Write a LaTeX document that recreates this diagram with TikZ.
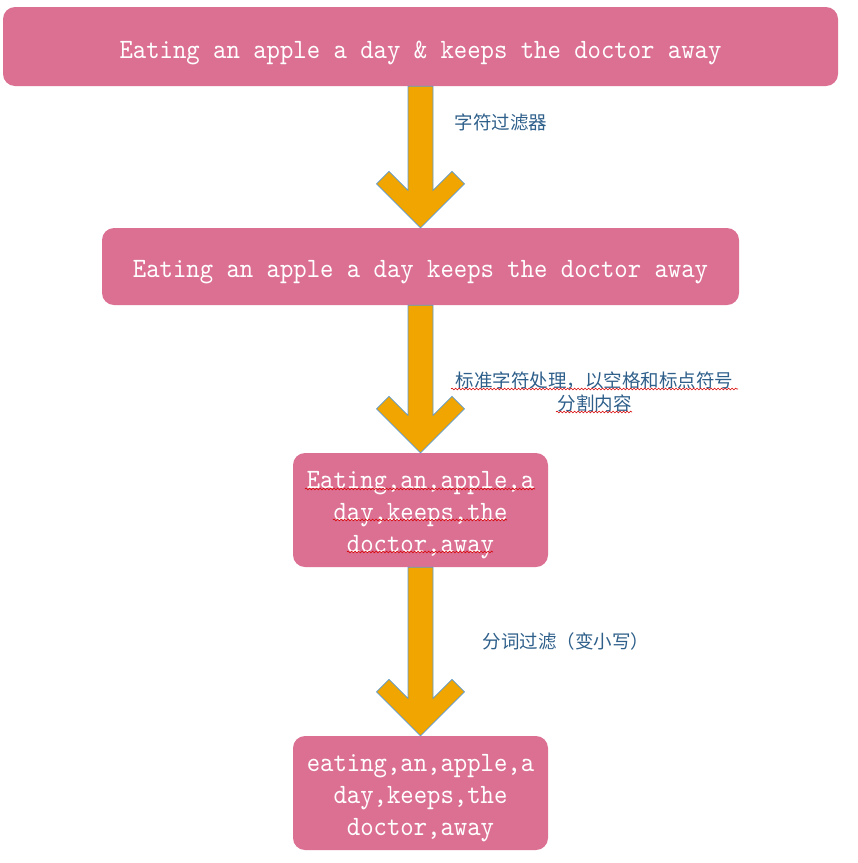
\documentclass[tikz,border=0pt]{standalone}
\usepackage{fontspec}
\usetikzlibrary{calc,decorations.pathmorphing}
\newfontfamily\boxfont[Extension=.otf,FakeStretch=0.91]{lmmono10-regular}
\newfontfamily\cjk{Noto Sans CJK SC}
\definecolor{boxpink}{RGB}{219,112,147}
\definecolor{arrowgold}{RGB}{240,165,0}
\definecolor{arrowedge}{RGB}{91,155,213}
\definecolor{labelblue}{RGB}{46,95,138}
\tikzset{
  stagebox/.style={fill=boxpink, draw=none, rounded corners=12pt, text=white,
    font=\boxfont\fontsize{28}{32}\selectfont, align=center, inner sep=0pt,
    text height=26pt, text depth=5pt},
  tallbox/.style={stagebox, minimum width=255pt, minimum height=114pt,
    text height=90pt, text depth=5pt},
  fatarrow/.style={fill=arrowgold, draw=arrowedge, line width=0.7pt, line join=miter},
  steplabel/.style={text=labelblue, font=\cjk\fontsize{18.5}{23}\selectfont, align=center, inner sep=0pt},
  spellmark/.style={draw=red!85!black, line width=0.6pt, decorate,
    decoration={snake, amplitude=0.9pt, segment length=3.5pt}},
}
\newcommand\stagearrow[2]{%
  \path[fatarrow] let \p1=(#1.south), \p2=(#2.north) in
    (\x1-12.5pt,\y1) -- (\x1-12.5pt,\y2+37.5pt) -- (\x1-31.5pt,\y2+56.5pt)
    -- (\x1-44pt,\y2+44pt) -- (\x1,\y2) -- (\x1+44pt,\y2+44pt)
    -- (\x1+31.5pt,\y2+56.5pt) -- (\x1+12.5pt,\y2+37.5pt) -- (\x1+12.5pt,\y1) -- cycle;}
\begin{document}
\begin{tikzpicture}[x=1pt,y=-1pt]
\useasboundingbox (0,0) rectangle (858,863);
% boxes
\node[stagebox, minimum width=835pt, minimum height=79pt, text height=28pt] (b1) at (420.5,46.5)
  {Eating an apple a day \& keeps the doctor away};
\node[stagebox, minimum width=637pt, minimum height=77pt] (b2) at (420.5,266.5)
  {Eating an apple a day keeps the doctor away};
\node[tallbox] (b3) at (420.5,510)
  {Eating,an,apple,a\\day,keeps,the\\doctor,away};
\node[tallbox] (b4) at (420.5,793)
  {eating,an,apple,a\\day,keeps,the\\doctor,away};
% arrows
\stagearrow{b1}{b2}
\stagearrow{b2}{b3}
\stagearrow{b3}{b4}
% labels
\node[steplabel] (l1) at (501,122) {字符过滤器};
\node[steplabel] (l2) at (594.5,391.5) {标准字符处理，以空格和标点符号\\分割内容};
\node[steplabel] (l3) at (566,641) {分词过滤（变小写）};
% spell-check marks
\path[spellmark] (451,389) -- (738,389);
\path[spellmark] (556,412) -- (632,412);
\path[spellmark] (305,489) -- (535,489);
\path[spellmark] (333,520) -- (507,520);
\path[spellmark] (347,552) -- (493,552);
\end{tikzpicture}
\end{document}
